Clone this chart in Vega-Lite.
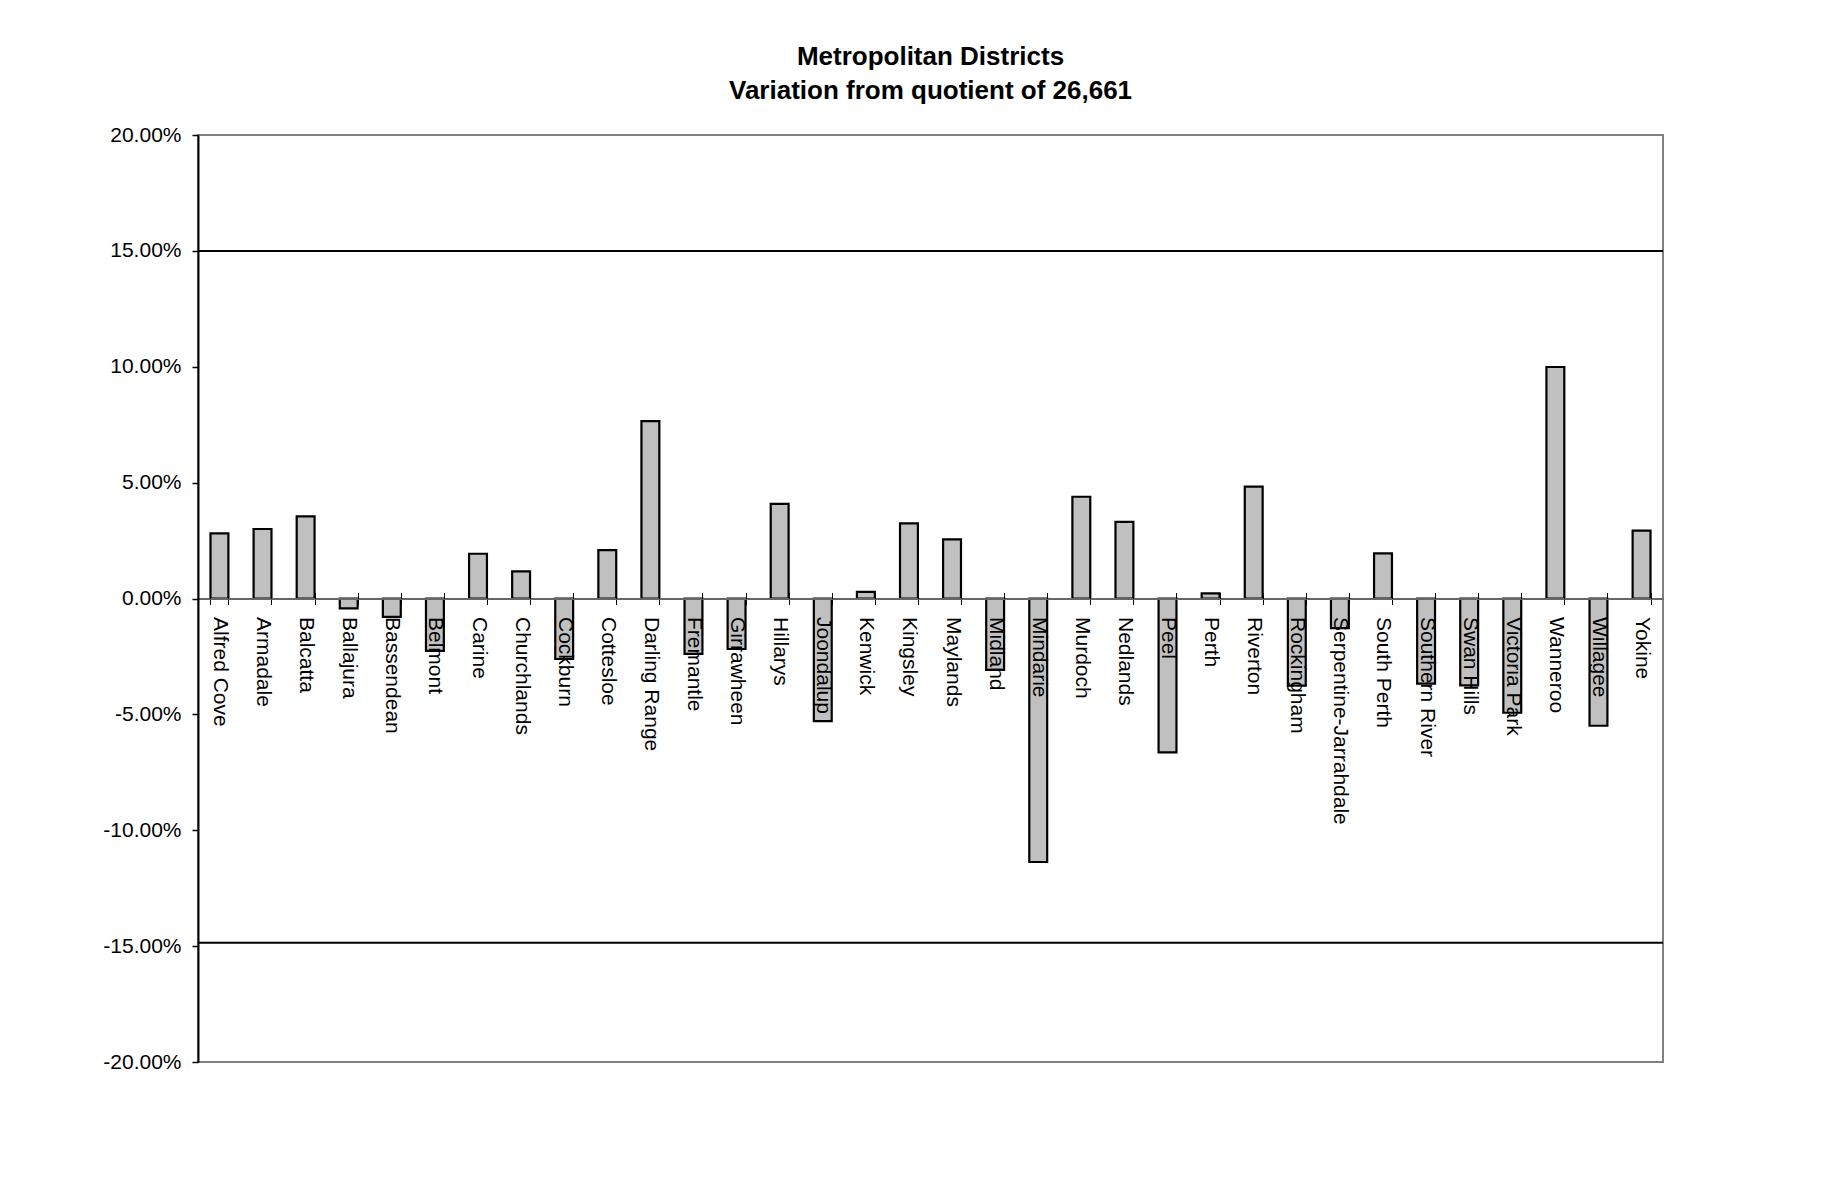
{
  "$schema": "https://vega.github.io/schema/vega-lite/v6.json",
  "width": 1465,
  "height": 927,
  "autosize": {"type": "none"},
  "padding": {"left": 198, "top": 135, "right": 180, "bottom": 130},
  "background": "white",
  "title": {
    "text": ["Metropolitan Districts", "Variation from quotient of 26,661"],
    "font": "Liberation Sans",
    "fontSize": 26,
    "fontWeight": "bold",
    "lineHeight": 34,
    "color": "black",
    "anchor": "middle",
    "frame": "group",
    "offset": 20
  },
  "data": {
    "values": [
      {"district": "Alfred Cove", "value": 0.0281},
      {"district": "Armadale", "value": 0.0300},
      {"district": "Balcatta", "value": 0.0354},
      {"district": "Ballajura", "value": -0.0043},
      {"district": "Bassendean", "value": -0.0079},
      {"district": "Belmont", "value": -0.0226},
      {"district": "Carine", "value": 0.0193},
      {"district": "Churchlands", "value": 0.0117},
      {"district": "Cockburn", "value": -0.0261},
      {"district": "Cottesloe", "value": 0.0209},
      {"district": "Darling Range", "value": 0.0765},
      {"district": "Fremantle", "value": -0.0239},
      {"district": "Girrawheen", "value": -0.0218},
      {"district": "Hillarys", "value": 0.0408},
      {"district": "Joondalup", "value": -0.0529},
      {"district": "Kenwick", "value": 0.0029},
      {"district": "Kingsley", "value": 0.0324},
      {"district": "Maylands", "value": 0.0255},
      {"district": "Midland", "value": -0.0308},
      {"district": "Mindarie", "value": -0.1137},
      {"district": "Murdoch", "value": 0.0439},
      {"district": "Nedlands", "value": 0.0331},
      {"district": "Peel", "value": -0.0664},
      {"district": "Perth", "value": 0.0022},
      {"district": "Riverton", "value": 0.0483},
      {"district": "Rockingham", "value": -0.0376},
      {"district": "Serpentine-Jarrahdale", "value": -0.0128},
      {"district": "South Perth", "value": 0.0195},
      {"district": "Southern River", "value": -0.0367},
      {"district": "Swan Hills", "value": -0.0375},
      {"district": "Victoria Park", "value": -0.0493},
      {"district": "Wanneroo", "value": 0.0999},
      {"district": "Willagee", "value": -0.0549},
      {"district": "Yokine", "value": 0.0293}
    ]
  },
  "encoding": {
    "y": {
      "field": "value",
      "type": "quantitative",
      "scale": {"domain": [-0.2, 0.2], "nice": false, "zero": false},
      "axis": {
        "values": [-0.2, -0.15, -0.1, -0.05, 0, 0.05, 0.1, 0.15, 0.2],
        "format": ".2%",
        "labelExpr": "replace(format(datum.value, '.2%'), '\u2212', '-')",
        "labelFont": "Liberation Sans",
        "labelFontSize": 21,
        "labelColor": "black",
        "labelPadding": 11,
        "tickSize": 6,
        "tickColor": "black",
        "tickWidth": 1.5,
        "domainColor": "black",
        "domainWidth": 2,
        "grid": false,
        "title": null,
        "zindex": 1
      }
    }
  },
  "layer": [
    {
      "mark": {"type": "bar", "fill": "#C0C0C0", "stroke": "black", "strokeWidth": 2.2},
      "encoding": {
        "x": {
          "field": "district",
          "type": "nominal",
          "sort": null,
          "scale": {"paddingInner": 0.585, "paddingOuter": 0.29},
          "axis": {
            "orient": "bottom",
            "offset": -463.5,
            "labelAngle": 90,
            "labelAlign": "left",
            "labelBaseline": "middle",
            "labelFont": "Liberation Sans",
            "labelFontSize": 21,
            "labelColor": "black",
            "labelPadding": 12,
            "labelOverlap": false,
            "labelLimit": 500,
            "tickBand": "extent",
            "tickSize": 6,
            "tickColor": "black",
            "tickWidth": 1,
            "domainColor": "#666666",
            "domainWidth": 2,
            "grid": false,
            "title": null,
            "zindex": 1
          }
        }
      }
    },
    {
      "mark": {"type": "bar", "opacity": 0},
      "encoding": {
        "x": {
          "field": "district",
          "type": "nominal",
          "sort": null,
          "axis": {
            "orient": "top",
            "offset": -463.5,
            "labels": false,
            "domain": false,
            "tickBand": "extent",
            "tickSize": 6,
            "tickColor": "black",
            "tickWidth": 1,
            "grid": false,
            "title": null,
            "zindex": 1
          }
        }
      }
    },
    {
      "data": {"values": [{"value": 0.15}, {"value": -0.1485}]},
      "mark": {"type": "rule", "color": "black", "strokeWidth": 2},
      "encoding": {}
    }
  ],
  "resolve": {"axis": {"x": "independent"}},
  "config": {
    "view": {"stroke": "#808080", "strokeWidth": 2},
    "axis": {"grid": false}
  }
}
